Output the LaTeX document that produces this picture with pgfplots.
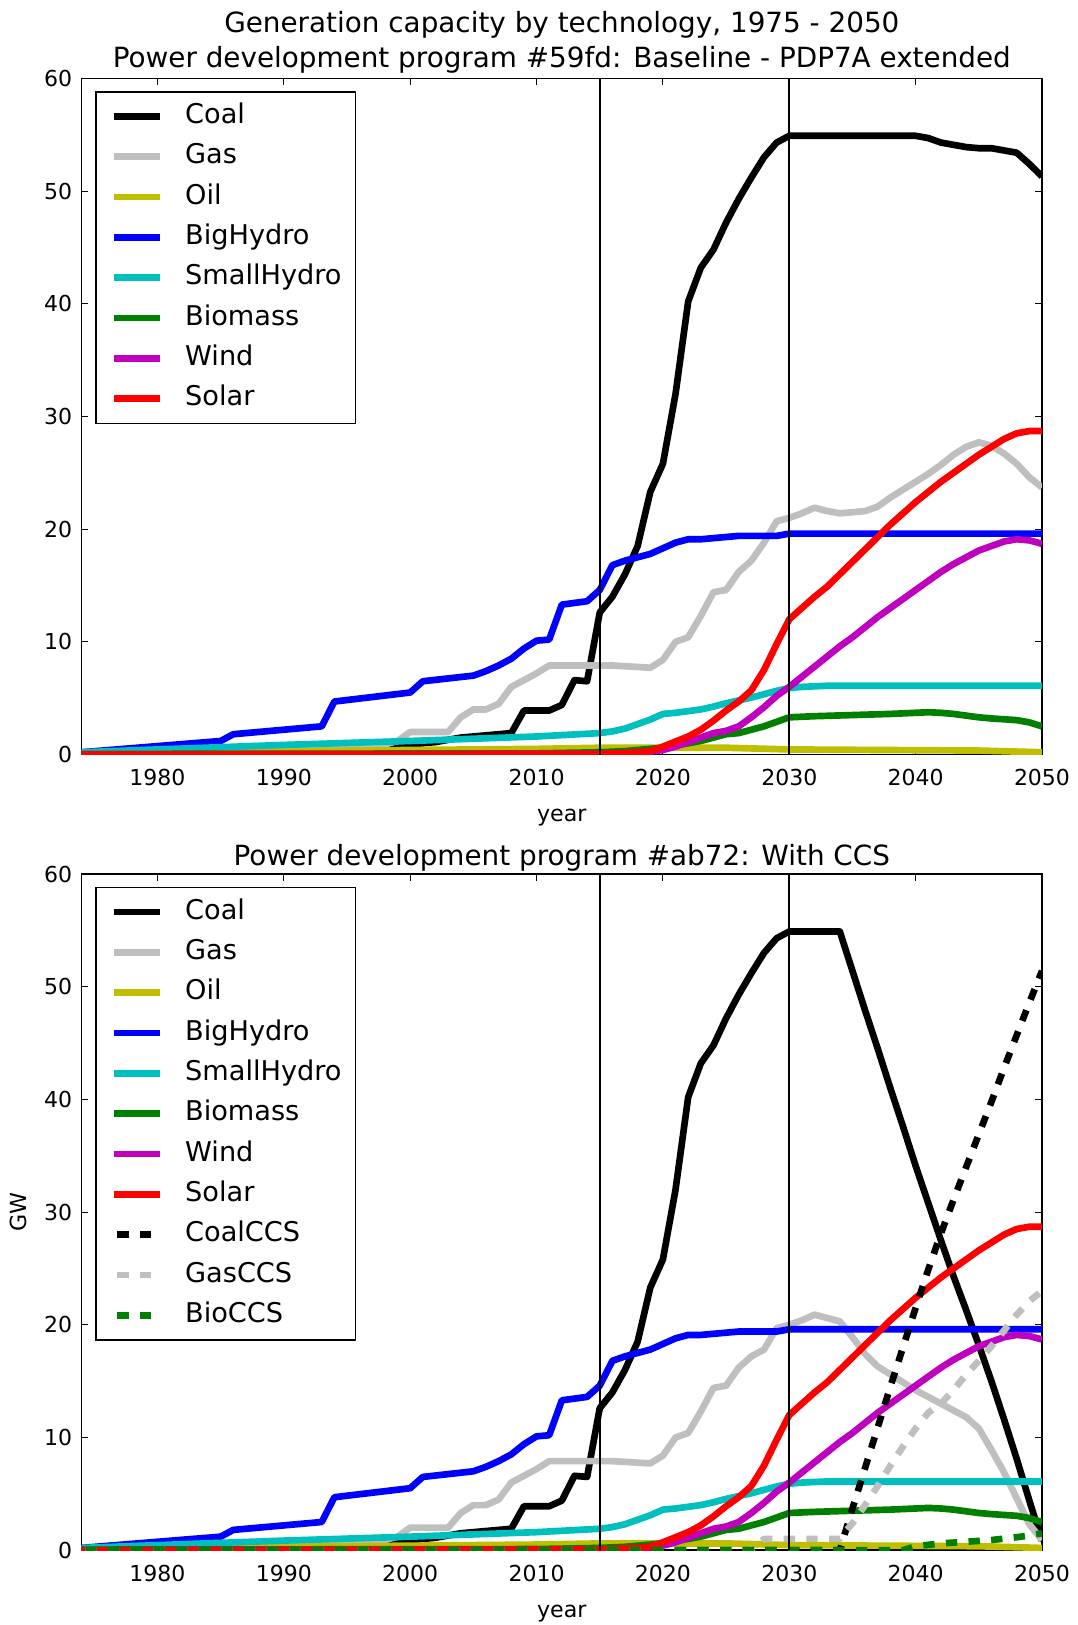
\documentclass[border=0pt]{standalone}
\usepackage{fontspec}
\setmainfont{DejaVu Sans}
\usepackage{pgfplots}
\usepackage{pgfplotstable}
\pgfplotsset{compat=1.18}
\definecolor{mplb}{rgb}{0,0,1}
\definecolor{mplg}{rgb}{0,0.5,0}
\definecolor{mplr}{rgb}{1,0,0}
\definecolor{mplc}{rgb}{0,0.75,0.75}
\definecolor{mplm}{rgb}{0.75,0,0.75}
\definecolor{mply}{rgb}{0.75,0.75,0}
\definecolor{mplsilver}{rgb}{0.75,0.75,0.75}

\pgfplotstableread{
year val
1974 0.1
1985 0.4
1995 0.7
2000 0.9
2002 1.1
2004 1.5
2007 1.8
2008 1.9
2009 3.9
2011 3.9
2012 4.4
2013 6.6
2014 6.5
2015 12.6
2016 14.0
2017 16.0
2018 18.5
2019 23.3
2020 25.8
2021 32.0
2022 40.2
2023 43.2
2024 44.8
2025 47.2
2026 49.3
2027 51.2
2028 53.0
2029 54.3
2030 54.9
2040 54.9
2041 54.7
2042 54.3
2043 54.1
2044 53.9
2045 53.8
2046 53.8
2047 53.6
2048 53.4
2049 52.4
2050 51.3
}\coalTop

\pgfplotstableread{
year val
1974 0.1
1985 0.4
1995 0.7
2000 0.9
2002 1.1
2004 1.5
2007 1.8
2008 1.9
2009 3.9
2011 3.9
2012 4.4
2013 6.6
2014 6.5
2015 12.6
2016 14.0
2017 16.0
2018 18.5
2019 23.3
2020 25.8
2021 32.0
2022 40.2
2023 43.2
2024 44.8
2025 47.2
2026 49.3
2027 51.2
2028 53.0
2029 54.3
2030 54.9
2034 54.9
2035 51.4
2036 47.9
2037 44.5
2038 41.0
2039 37.6
2040 34.1
2041 30.8
2042 27.5
2043 24.3
2044 21.3
2045 18.2
2046 15.0
2047 11.6
2048 8.1
2049 4.4
2050 0.8
}\coalBot

\pgfplotstableread{
year val
1974 0.1
1985 0.3
1995 0.6
1998 0.9
1999 1.2
2000 2.0
2003 2.0
2004 3.3
2005 4.0
2006 4.0
2007 4.5
2008 6.0
2009 6.6
2010 7.2
2011 7.9
2016 7.9
2019 7.7
2020 8.4
2021 10.0
2022 10.4
2023 12.3
2024 14.4
2025 14.6
2026 16.2
2027 17.2
2028 18.8
2029 20.7
2030 21.0
2031 21.4
2032 21.9
2033 21.6
2034 21.4
2035 21.5
2036 21.6
2037 22.0
2038 22.8
2039 23.5
2040 24.2
2041 24.9
2042 25.7
2043 26.6
2044 27.3
2045 27.7
2046 27.4
2047 26.7
2048 25.8
2049 24.6
2050 23.7
}\gasTop

\pgfplotstableread{
year val
1974 0.1
1985 0.3
1995 0.6
1998 0.9
1999 1.2
2000 2.0
2003 2.0
2004 3.3
2005 4.0
2006 4.0
2007 4.5
2008 6.0
2009 6.6
2010 7.2
2011 7.9
2016 7.9
2019 7.7
2020 8.4
2021 10.0
2022 10.4
2023 12.3
2024 14.4
2025 14.6
2026 16.2
2027 17.2
2028 17.8
2029 19.7
2030 20.0
2031 20.4
2032 20.9
2033 20.6
2034 20.3
2035 18.9
2036 17.4
2037 16.3
2038 15.6
2039 14.9
2040 14.2
2041 13.6
2042 13.0
2043 12.4
2044 11.8
2045 10.8
2046 8.9
2047 6.9
2048 4.6
2049 2.3
2050 0.9
}\gasBot

\pgfplotstableread{
year val
1974 0.15
1990 0.3
2000 0.4
2010 0.5
2015 0.6
2025 0.6
2030 0.45
2045 0.35
2050 0.2
}\oil

\pgfplotstableread{
year val
1974 0.2
1985 1.2
1986 1.8
1993 2.5
1994 4.7
2000 5.5
2001 6.5
2005 7.0
2006 7.4
2007 7.9
2008 8.5
2009 9.4
2010 10.1
2011 10.2
2012 13.3
2014 13.6
2015 14.6
2016 16.8
2017 17.2
2018 17.5
2019 17.8
2020 18.3
2021 18.8
2022 19.1
2023 19.1
2024 19.2
2025 19.3
2026 19.4
2029 19.4
2030 19.6
2050 19.6
}\bighydro

\pgfplotstableread{
year val
1974 0.2
1980 0.45
1990 0.85
2000 1.2
2010 1.6
2015 1.9
2016 2.05
2017 2.3
2018 2.7
2019 3.1
2020 3.6
2021 3.7
2022 3.85
2023 4.0
2024 4.25
2025 4.55
2026 4.8
2027 5.05
2028 5.35
2029 5.65
2030 5.9
2031 6.0
2032 6.05
2033 6.1
2050 6.1
}\smallhydro

\pgfplotstableread{
year val
1974 0.05
2010 0.1
2015 0.2
2017 0.3
2019 0.5
2020 0.6
2021 0.8
2022 1.0
2023 1.2
2024 1.5
2025 1.8
2026 1.9
2027 2.2
2028 2.5
2029 2.9
2030 3.3
2032 3.4
2035 3.5
2038 3.6
2040 3.7
2041 3.75
2042 3.7
2043 3.6
2044 3.45
2045 3.3
2046 3.2
2048 3.05
2049 2.85
2050 2.5
}\biomass

\pgfplotstableread{
year val
1974 0.0
2015 0.05
2017 0.1
2019 0.25
2020 0.4
2021 0.7
2022 1.1
2023 1.5
2024 1.9
2025 2.1
2026 2.5
2027 3.3
2028 4.2
2029 5.2
2030 6.0
2031 6.9
2032 7.8
2033 8.7
2034 9.6
2035 10.4
2036 11.3
2037 12.2
2038 13.0
2039 13.8
2040 14.6
2041 15.4
2042 16.2
2043 16.9
2044 17.5
2045 18.1
2046 18.5
2047 18.9
2048 19.1
2049 19.0
2050 18.7
}\wind

\pgfplotstableread{
year val
1974 0.0
2015 0.05
2016 0.1
2017 0.15
2018 0.2
2019 0.3
2020 0.7
2021 1.15
2022 1.6
2023 2.2
2024 3.0
2025 3.9
2026 4.7
2027 5.7
2028 7.5
2029 9.8
2030 12.0
2031 13.0
2032 14.0
2033 14.9
2034 16.0
2035 17.1
2036 18.2
2037 19.3
2038 20.4
2039 21.4
2040 22.4
2041 23.3
2042 24.2
2043 25.0
2044 25.8
2045 26.6
2046 27.3
2047 28.0
2048 28.5
2049 28.7
2050 28.7
}\solar

\pgfplotstableread{
year val
1974 0.0
2034 0.0
2035 3.7
2036 7.3
2037 10.9
2038 14.5
2039 18.0
2040 21.5
2041 24.9
2042 28.1
2043 31.1
2044 34.0
2045 36.9
2046 39.8
2047 42.8
2048 45.7
2049 48.6
2050 51.4
}\coalccs

\pgfplotstableread{
year val
1974 0.0
2027 0.0
2028 1.0
2034 1.0
2035 2.4
2036 4.0
2037 5.7
2038 7.5
2039 9.2
2040 10.8
2041 12.2
2042 13.0
2043 14.2
2044 15.6
2045 16.8
2046 18.1
2047 19.5
2048 20.9
2049 22.1
2050 23.0
}\gasccs

\pgfplotstableread{
year val
1974 0.0
2039 0.0
2040 0.35
2042 0.6
2044 0.75
2046 0.9
2048 1.15
2049 1.3
2050 1.5
}\bioccs

\pgfplotsset{
  mplaxis/.style={
    scale only axis, width=576.2pt, height=405.7pt,
    xmin=1974, xmax=2050, ymin=0, ymax=60,
    xtick={1980,1990,...,2050}, ytick={0,10,...,60},
    tick align=inside, major tick length=4pt,
    tick style={black, line width=0.6pt},
    axis line style={line width=1pt},
    /pgf/number format/assume math mode=true,
    /pgf/number format/1000 sep={},
    ticklabel style={font=\fontsize{13.2}{15.8}\selectfont},
    xticklabel style={anchor=center, inner sep=0pt, yshift=-13.7pt},
    yticklabel style={anchor=east, inner sep=0pt, xshift=-5.5pt},
    xlabel={year},
    xlabel style={font=\fontsize{13.3}{16}\selectfont, at={(axis description cs:0.5,-0.0937)}, anchor=center},
    every axis title shift=0pt,
    title style={font=\fontsize{16.7}{20}\selectfont, anchor=center, yshift=0pt},
    legend style={at={(axis description cs:0.0144,0.981)}, anchor=north west,
      draw=black, line width=0.8pt, fill=white,
      inner xsep=8.5pt, inner ysep=7pt, row sep=8.7pt, column sep=12.9pt,
      font=\fontsize{16.3}{19}\selectfont,
      nodes={inner sep=0pt, text height=12pt, text depth=3.5pt}},
    legend cell align=left,
    legend image code/.code={\draw[##1,line cap=butt] (0pt,0pt) -- (28pt,0pt);},
    every axis plot/.append style={line width=4pt, line join=round},
  }
}

\begin{document}
\begin{tikzpicture}
\useasboundingbox (0pt,0pt) rectangle (646.8pt,-975pt);
\begin{axis}[mplaxis, name=ax1, at={(49pt,-47pt)}, anchor=north west,
  title={Power development program \#59fd: Baseline - PDP7A extended},
  title style={at={(axis description cs:0.5,1.0269)}}]
\addplot[black] table[x=year,y=val] {\coalTop};
\addlegendentry{Coal}
\addplot[mplsilver] table[x=year,y=val] {\gasTop};
\addlegendentry{Gas}
\addplot[mply] table[x=year,y=val] {\oil};
\addlegendentry{Oil}
\addplot[mplb] table[x=year,y=val] {\bighydro};
\addlegendentry{BigHydro}
\addplot[mplc] table[x=year,y=val] {\smallhydro};
\addlegendentry{SmallHydro}
\addplot[mplg] table[x=year,y=val] {\biomass};
\addlegendentry{Biomass}
\addplot[mplm] table[x=year,y=val] {\wind};
\addlegendentry{Wind}
\addplot[mplr] table[x=year,y=val] {\solar};
\addlegendentry{Solar}
\addplot[black, line width=1pt, forget plot] coordinates {(2015,0) (2015,60)};
\addplot[black, line width=1pt, forget plot] coordinates {(2030,0) (2030,60)};
\end{axis}
\node[font=\fontsize{16.7}{20}\selectfont, anchor=center] at ([yshift=32pt]ax1.north) {Generation capacity by technology, 1975 - 2050};

\begin{axis}[mplaxis, at={(49pt,-524.4pt)}, anchor=north west,
  title={Power development program \#ab72: With CCS},
  title style={at={(axis description cs:0.5,1.0234)}},
  ylabel={GW},
  ylabel style={font=\fontsize{13.3}{16}\selectfont, at={(axis description cs:-0.0656,0.5)}, anchor=center}]
\addplot[black] table[x=year,y=val] {\coalBot};
\addlegendentry{Coal}
\addplot[mplsilver] table[x=year,y=val] {\gasBot};
\addlegendentry{Gas}
\addplot[mply] table[x=year,y=val] {\oil};
\addlegendentry{Oil}
\addplot[mplb] table[x=year,y=val] {\bighydro};
\addlegendentry{BigHydro}
\addplot[mplc] table[x=year,y=val] {\smallhydro};
\addlegendentry{SmallHydro}
\addplot[mplg] table[x=year,y=val] {\biomass};
\addlegendentry{Biomass}
\addplot[mplm] table[x=year,y=val] {\wind};
\addlegendentry{Wind}
\addplot[mplr] table[x=year,y=val] {\solar};
\addlegendentry{Solar}
\addplot[black, dash pattern=on 6.8pt off 6.8pt, dash phase=11.4pt] table[x=year,y=val] {\coalccs};
\addlegendentry{CoalCCS}
\addplot[mplsilver, dash pattern=on 6.8pt off 6.8pt, dash phase=11.4pt] table[x=year,y=val] {\gasccs};
\addlegendentry{GasCCS}
\addplot[mplg, dash pattern=on 6.8pt off 6.8pt, dash phase=11.4pt] table[x=year,y=val] {\bioccs};
\addlegendentry{BioCCS}
\addplot[black, line width=1pt, forget plot] coordinates {(2015,0) (2015,60)};
\addplot[black, line width=1pt, forget plot] coordinates {(2030,0) (2030,60)};
\end{axis}
\end{tikzpicture}
\end{document}
